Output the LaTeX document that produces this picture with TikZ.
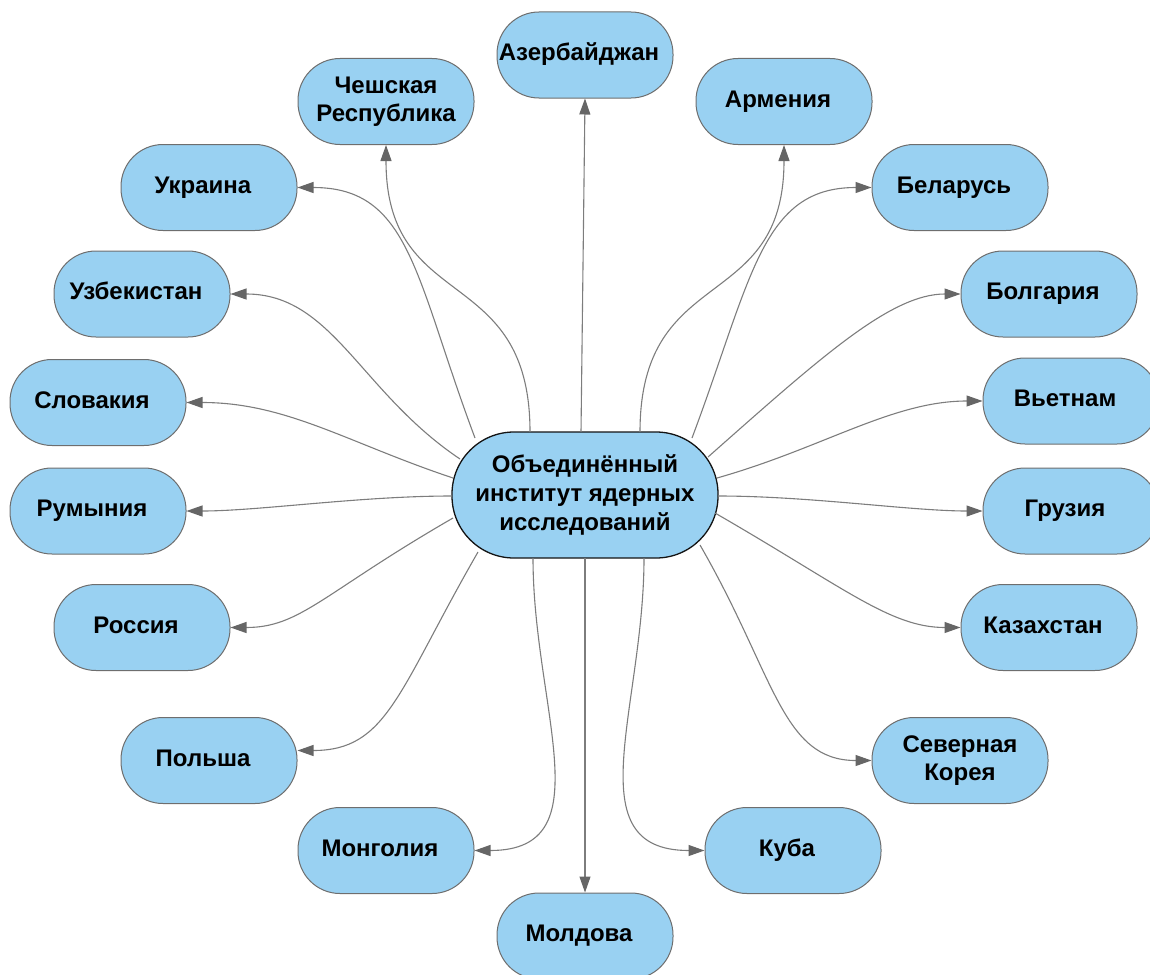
\documentclass[tikz,border=0pt]{standalone}
\usepackage{fontspec}
\setmainfont{Liberation Sans}
\usetikzlibrary{arrows.meta,calc}
\definecolor{nodefill}{RGB}{153,209,242}
\definecolor{nodeline}{RGB}{110,110,110}
\definecolor{hubline}{RGB}{20,20,20}
\definecolor{edgecol}{RGB}{125,125,125}
\definecolor{tipcol}{RGB}{102,102,102}
\begin{document}
\begin{tikzpicture}[x=1pt,y=-1pt,
  base/.style={fill=nodefill, inner sep=0pt,
    font=\bfseries\fontsize{24}{28}\selectfont},
  country/.style={base, draw=nodeline, line width=1pt, rounded corners=42pt,
    minimum width=176pt, minimum height=86pt,
    text height=18pt, text depth=7pt,
    execute at begin node={\hspace*{-12pt}}},
  country2/.style={base, draw=nodeline, line width=1pt, rounded corners=42pt,
    minimum width=176pt, minimum height=86pt, align=center},
  hub/.style={base, draw=hubline, line width=1.3pt, rounded corners=62pt,
    minimum width=266pt, minimum height=126pt, align=center,
    font=\bfseries\fontsize{24}{29}\selectfont},
  link/.style={draw=edgecol, line width=1.1pt,
    -{Triangle[length=16pt,width=11pt,color=tipcol]}}]
\useasboundingbox (0,0) rectangle (1150,974);
\clip (0,0) rectangle (1150,974);

\node[hub] (ctr) at (585,495) {Объединённый\\институт ядерных\\исследований};

\node[country]  (az) at (585,55)    {Азербайджан};
\node[country2] (cz) at (386,101.5) {Чешская\\Республика};
\node[country]  (ar) at (784,101.5) {Армения};
\node[country]  (ua) at (209,187.5) {Украина};
\node[country]  (by) at (960,187.5) {Беларусь};
\node[country]  (uz) at (142,294)   {Узбекистан};
\node[country]  (bg) at (1049,294)  {Болгария};
\node[country]  (sk) at (98,402.5)  {Словакия};
\node[country]  (vn) at (1071,401)  {Вьетнам};
\node[country]  (ro) at (98,511)    {Румыния};
\node[country]  (ge) at (1071,511)  {Грузия};
\node[country]  (ru) at (142,627.5) {Россия};
\node[country]  (kz) at (1049,627.5){Казахстан};
\node[country]  (pl) at (209,760.5) {Польша};
\node[country2] (kp) at (960,760.5) {Северная\\Корея};
\node[country]  (mn) at (386,850.5) {Монголия};
\node[country]  (cu) at (793,850.5) {Куба};
\node[country]  (md) at (585,936)   {Молдова};

\draw[link] ($(ctr.center)+(-4,-63)$) -- (az.south);
\draw[link] ($(ctr.center)+(-55,-63)$) .. controls +(0,-170) and +(0,170) .. (cz.south);
\draw[link] ($(ctr.center)+(55,-63)$) .. controls +(0,-170) and +(0,170) .. (ar.south);
\draw[link] ($(ctr.center)+(-110,-57)$) .. controls +(-60,-160) and +(113,0) .. (ua.east);
\draw[link] ($(ctr.center)+(107,-57)$) .. controls +(60,-160) and +(-110,0) .. (by.west);
\draw[link] ($(ctr.center)+(-125,-36)$) .. controls +(-100,-67) and +(102,0) .. (uz.east);
\draw[link] ($(ctr.center)+(123,-38)$) .. controls +(112,-99) and +(-70,0) .. (bg.west);
\draw[link] ($(ctr.center)+(-132,-17)$) .. controls +(-105,-35) and +(100,0) .. (sk.east);
\draw[link] ($(ctr.center)+(132,-17)$) .. controls +(106,-30) and +(-90,0) .. (vn.west);
\draw[link] ($(ctr.center)+(-133,1)$) .. controls +(-92,0) and +(72,0) .. (ro.east);
\draw[link] ($(ctr.center)+(133,1)$) .. controls +(92,0) and +(-72,0) .. (ge.west);
\draw[link] ($(ctr.center)+(-132,23)$) .. controls +(-130,75) and +(70,0) .. (ru.east);
\draw[link] ($(ctr.center)+(130,18)$) .. controls +(130,75) and +(-70,0) .. (kz.west);
\draw[link] ($(ctr.center)+(-107,57)$) .. controls +(-80,139) and +(90,0) .. ([yshift=10pt]pl.east);
\draw[link] ($(ctr.center)+(115,50)$) .. controls +(75,130) and +(-90,0) .. (kp.west);
\draw[link] ($(ctr.center)+(-52,63)$) .. controls +(0,150) and +(130,0) .. (mn.east);
\draw[link] ($(ctr.center)+(0,63)$) -- (md.north);
\draw[link] ($(ctr.center)+(59,63)$) .. controls +(0,150) and +(-130,0) .. (cu.west);
\end{tikzpicture}
\end{document}
